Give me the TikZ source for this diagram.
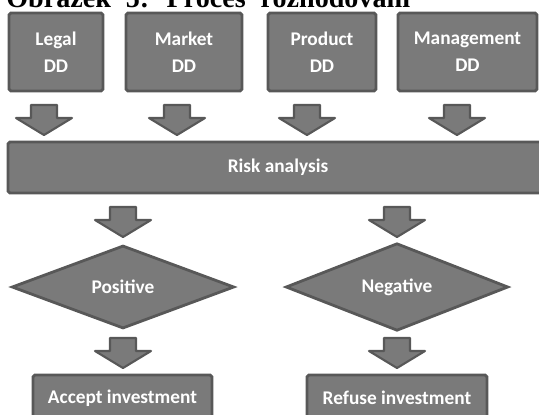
\documentclass[tikz,border=0pt]{standalone}
\usepackage{fontspec}
\setmainfont{Carlito}
\newfontfamily\titlefont{Liberation Serif}
\usepackage{tikz}
\usetikzlibrary{shapes.geometric}
\definecolor{ddfill}{HTML}{7A7A7A}
\definecolor{ddline}{HTML}{585858}

\begin{document}
\begin{tikzpicture}[
    x=0.02cm, y=-0.02cm,
    box/.style={draw=ddline, fill=ddfill, line width=1.6pt, rounded corners=1pt,
        text=white, font=\fontsize{11}{15.5}\selectfont\bfseries, align=center, inner sep=0pt},
    decision/.style={diamond, draw=ddline, fill=ddfill, line width=1.6pt,
        text=white, font=\fontsize{11}{13}\selectfont\bfseries, inner sep=0pt,
        minimum width=4.45cm, minimum height=1.66cm},
    blockarr/.pic={\filldraw[draw=ddline, fill=ddfill, line width=1.2pt, line join=round]
        (-13,0) -- (13,0) -- (13,13) -- (28,13) -- (0,30) -- (-28,13) -- (-13,13) -- cycle;}
]
    \useasboundingbox (0,0) rectangle (539,414);

    % Title (cut at the top)
    \node[anchor=base west, inner sep=0pt] (title) at (6,7)
        {\titlefont\fontsize{16}{18}\selectfont\bfseries\spaceskip=8.5pt Obrázek 5: Proces rozhodování};

    % Due diligence boxes
    \node[box, minimum width=1.88cm, minimum height=1.56cm] (legal) at (56,52) {Legal\\DD};
    \node[box, minimum width=2.32cm, minimum height=1.56cm] (market) at (184,52) {Market\\DD};
    \node[box, minimum width=2.16cm, minimum height=1.56cm] (product) at (322,52) {Product\\DD};
    \node[box, minimum width=2.78cm, minimum height=1.56cm] (management) at (467.5,52) {Management\\DD};

    % Arrows down to risk analysis
    \pic at (44,105) {blockarr};
    \pic at (177,105) {blockarr};
    \pic at (307,105) {blockarr};
    \pic at (457,105) {blockarr};

    % Risk analysis bar
    \node[box, minimum width=10.8cm, minimum height=1.02cm] (risk) at (278,167.5) {Risk analysis};

    % Arrows down to decisions
    \pic at (123,207) {blockarr};
    \pic at (397,207) {blockarr};

    % Decisions
    \node[decision] (positive) at (123,287) {Positive};
    \node[decision] (negative) at (397,287) {Negative};

    % Arrows down to outcomes
    \pic at (123,338) {blockarr};
    \pic at (397,338) {blockarr};

    % Outcome boxes
    \node[box, minimum width=3.58cm, minimum height=0.92cm] (accept) at (122.5,398) {Accept investment};
    \node[box, minimum width=3.6cm, minimum height=0.92cm] (refuse) at (397,398) {Refuse investment};

\end{tikzpicture}
\end{document}
